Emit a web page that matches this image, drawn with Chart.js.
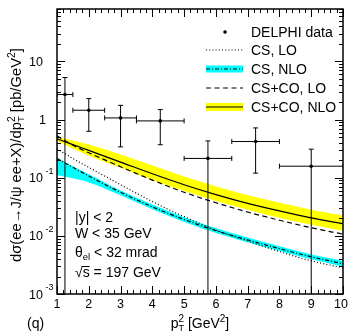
<!DOCTYPE html>
<html><head><meta charset="utf-8">
<script src="https://cdn.jsdelivr.net/npm/chart.js@4.4.0/dist/chart.umd.min.js"></script>
<style>html,body{margin:0;padding:0;background:#fff;}canvas{display:block;}</style>
</head><body>
<canvas id="c" width="351" height="334"></canvas>
<script>
// ---- data ----
const curveX     = [1, 1.5, 2, 3, 4, 5, 6, 7, 8, 9, 10];
const csLO       = [0.316, 0.214, 0.151, 0.0759, 0.0389, 0.0214, 0.0126, 0.00813, 0.00537, 0.00372, 0.00282];
const csNLO      = [0.214, 0.151, 0.107, 0.0562, 0.0316, 0.0191, 0.0123, 0.00851, 0.00603, 0.00437, 0.00331];
const csNLOHigh  = [0.224, 0.158, 0.115, 0.0603, 0.0347, 0.0209, 0.0135, 0.00933, 0.00661, 0.00479, 0.00372];
const csNLOLow   = [0.112, 0.0977, 0.0832, 0.0501, 0.0288, 0.0174, 0.0112, 0.00776, 0.00550, 0.00398, 0.00295];
const coLO       = [0.525, 0.363, 0.269, 0.155, 0.0912, 0.0562, 0.0372, 0.0257, 0.0186, 0.0138, 0.0107];
const coNLO      = [0.468, 0.372, 0.295, 0.186, 0.117, 0.0759, 0.0513, 0.0363, 0.0269, 0.0204, 0.0162];
const coNLOHigh  = [0.50, 0.437, 0.372, 0.251, 0.162, 0.105, 0.0708, 0.0501, 0.0372, 0.0282, 0.0224];
const coNLOLow   = [0.427, 0.316, 0.240, 0.148, 0.0912, 0.0589, 0.0398, 0.0282, 0.0204, 0.0155, 0.0123];

const dataX      = [1.25, 2, 3, 4.25, 5.75, 7.25, 9];
const dataXLow   = [1, 1.5, 2.5, 3.5, 5, 6.5, 8];
const dataXHigh  = [1.5, 2.5, 3.5, 5, 6.5, 8, 10];
const dataY      = [2.7, 1.45, 1.07, 0.95, 0.215, 0.42, 0.158];
const dataYLow   = [0.0001, 0.63, 0.34, 0.37, 0.0001, 0.12, 0.0001];
const dataYHigh  = [5.3, 2.3, 1.76, 1.49, 0.43, 0.72, 0.31];

const xTickValues = [1, 2, 3, 4, 5, 6, 7, 8, 9, 10];
const xTickLabels = ['1', '2', '3', '4', '5', '6', '7', '8', '9', '10'];
const yTickValues = [0.001, 0.01, 0.1, 1, 10];
const yTickBases  = ['10', '10', '10', '1', '10'];
const yTickExps   = ['-3', '-2', '-1', '', ''];
const legendLabels = ['DELPHI data', 'CS, LO', 'CS, NLO', 'CS+CO, LO', 'CS+CO, NLO'];
const cutLines = ['|y| < 2', 'W < 35 GeV', 'θ', '√s = 197 GeV'];

// ---- styling ----
const FONT = '"Liberation Sans", Arial, Helvetica, sans-serif';
const f = s => s + 'px ' + FONT;
const YELLOW = '#ffff00', CYAN = '#00ffff';
const DOT = [1, 2.2], DASH = [5, 3.5], DASHDOT = [4, 2, 1, 2];

const xy = (xs, ys) => xs.map((x, i) => ({x: x, y: ys[i]}));
const lineDs = (ys, dash, order) => ({data: xy(curveX, ys), borderColor: '#000', borderWidth: 1.2,
  borderDash: dash, pointRadius: 0, fill: false, order: order, cubicInterpolationMode: 'monotone'});
const bandEdge = (ys, fill, color) => ({data: xy(curveX, ys), borderColor: 'rgba(0,0,0,0)', borderWidth: 1,
  pointRadius: 0, fill: fill, backgroundColor: color, order: 10, cubicInterpolationMode: 'monotone'});

function drawSegs(ctx, segs, x, y) {
  let cx = x;
  for (const s of segs) {
    ctx.font = f(s.size);
    ctx.fillText(s.t, cx, y + (s.dy || 0));
    const w = ctx.measureText(s.t).width;
    cx += (s.adv !== undefined) ? s.adv : w;
  }
  return cx - x;
}
function segsWidth(ctx, segs) {
  let w = 0;
  for (const s of segs) { ctx.font = f(s.size); const m = ctx.measureText(s.t).width; w += (s.adv !== undefined) ? s.adv : m; }
  return w;
}

const decor = {
  id: 'decor',
  afterDatasetsDraw(chart) {
    const ctx = chart.ctx, a = chart.chartArea, xs = chart.scales.x, ys = chart.scales.y;
    ctx.save();
    // error bars
    ctx.save();
    ctx.beginPath(); ctx.rect(a.left, a.top, a.right - a.left, a.bottom - a.top); ctx.clip();
    ctx.strokeStyle = '#000'; ctx.lineWidth = 1;
    for (let i = 0; i < dataX.length; i++) {
      const px = xs.getPixelForValue(dataX[i]), py = ys.getPixelForValue(dataY[i]);
      const xl = xs.getPixelForValue(dataXLow[i]), xh = xs.getPixelForValue(dataXHigh[i]);
      const yl = Math.min(ys.getPixelForValue(dataYLow[i]), a.bottom + 5), yh = ys.getPixelForValue(dataYHigh[i]);
      ctx.beginPath();
      ctx.moveTo(xl, py); ctx.lineTo(xh, py);
      ctx.moveTo(px, yl); ctx.lineTo(px, yh);
      ctx.moveTo(xl, py - 2.5); ctx.lineTo(xl, py + 2.5);
      ctx.moveTo(xh, py - 2.5); ctx.lineTo(xh, py + 2.5);
      ctx.moveTo(px - 2.5, yh); ctx.lineTo(px + 2.5, yh);
      if (yl < a.bottom) { ctx.moveTo(px - 2.5, yl); ctx.lineTo(px + 2.5, yl); }
      ctx.stroke();
    }
    ctx.restore();

    // frame
    ctx.strokeStyle = '#000'; ctx.lineWidth = 1.5; ctx.setLineDash([]);
    ctx.strokeRect(a.left, a.top, a.right - a.left, a.bottom - a.top);
    // x ticks
    ctx.lineWidth = 1;
    ctx.beginPath();
    for (let v = 1; v <= 10.001; v += 0.2) {
      const major = Math.abs(v - Math.round(v)) < 1e-6;
      const L = major ? 8 : 4;
      const px = Math.round(xs.getPixelForValue(v)) + 0.5;
      ctx.moveTo(px, a.bottom); ctx.lineTo(px, a.bottom - L);
      ctx.moveTo(px, a.top); ctx.lineTo(px, a.top + L);
    }
    // y ticks
    for (let e = -3; e <= 1; e++) {
      for (let k = 1; k <= 9; k++) {
        const v = k * Math.pow(10, e);
        if (v > ys.max) continue;
        const L = k === 1 ? 8 : 4;
        const py = Math.round(ys.getPixelForValue(v)) + 0.5;
        ctx.moveTo(a.left, py); ctx.lineTo(a.left + L, py);
        ctx.moveTo(a.right, py); ctx.lineTo(a.right - L, py);
      }
    }
    ctx.stroke();

    // tick labels
    ctx.fillStyle = '#000';
    ctx.textBaseline = 'alphabetic';
    ctx.font = f(12.5); ctx.textAlign = 'center';
    xTickValues.forEach((v, i) => ctx.fillText(xTickLabels[i], xs.getPixelForValue(v) - (i === 9 ? 2 : 0), 308));
    yTickValues.forEach((v, i) => {
      const py = ys.getPixelForValue(v);
      ctx.textAlign = 'right'; ctx.font = f(12.5);
      const right = yTickExps[i] ? 43 : (yTickBases[i] === '1' ? 46 : 43);
      ctx.fillText(yTickBases[i], right, py + 4.5);
      if (yTickExps[i]) { ctx.textAlign = 'left'; ctx.font = f(9); ctx.fillText(yTickExps[i], 45.5, py - 4); }
    });

    // x title
    ctx.textAlign = 'left';
    const xt = [{t: 'p', size: 14}, {t: '2', size: 10, dy: -6, adv: 0}, {t: 'T', size: 9, dy: 3},
                {t: ' [GeV', size: 14}, {t: '2', size: 10, dy: -6}, {t: ']', size: 14}];
    const xw = segsWidth(ctx, xt);
    drawSegs(ctx, xt, 200 - xw / 2, 328);
    ctx.font = f(14); ctx.fillText('(q)', 27, 328);

    // y title (rotated), spanning y = 262 (start) up to y = 48 (end)
    const mk = (S) => [{t: 'dσ(ee→J/ψ ee+X)/dp', size: S}, {t: '2', size: S * 0.7, dy: -S * 0.42, adv: 0},
                       {t: 'T', size: S * 0.65, dy: S * 0.2},
                       {t: ' [pb/GeV', size: S}, {t: '2', size: S * 0.7, dy: -S * 0.42}, {t: ']', size: S}];
    let S = 14;
    S = S * 214 / segsWidth(ctx, mk(S));
    const yt = mk(S);
    ctx.save();
    ctx.translate(21, 262);
    ctx.rotate(-Math.PI / 2);
    drawSegs(ctx, yt, 0, 0);
    ctx.restore();

    // legend
    const lx0 = 206, lx1 = 243, tx = 251;
    const rows = [32, 50, 69, 88, 107];
    ctx.font = f(14); ctx.textAlign = 'left';
    legendLabels.forEach((t, i) => ctx.fillText(t, tx, rows[i] + 5));
    ctx.beginPath(); ctx.arc(225, rows[0], 1.8, 0, Math.PI * 2); ctx.fill();
    ctx.fillStyle = CYAN; ctx.fillRect(lx0, rows[2] - 3.5, lx1 - lx0, 7);
    ctx.fillStyle = YELLOW; ctx.fillRect(lx0, rows[4] - 4, lx1 - lx0, 8);
    ctx.fillStyle = '#000';
    const seg = (y, dash) => { ctx.setLineDash(dash); ctx.lineWidth = 1.2; ctx.beginPath(); ctx.moveTo(lx0, y); ctx.lineTo(lx1, y); ctx.stroke(); };
    seg(rows[1], DOT); seg(rows[2], DASHDOT); seg(rows[3], DASH); seg(rows[4], []);
    ctx.setLineDash([]);

    // cut annotations
    ctx.font = f(14); ctx.textAlign = 'left';
    ctx.fillText(cutLines[0], 75, 222);
    ctx.fillText(cutLines[1], 75, 238);
    drawSegs(ctx, [{t: cutLines[2], size: 14}, {t: 'el', size: 9.5, dy: 3}, {t: ' < 32 mrad', size: 14}], 75, 257);
    ctx.font = f(14);
    ctx.fillText(cutLines[3], 75, 277);
    const wr = ctx.measureText('√').width, ws = ctx.measureText('s').width;
    ctx.lineWidth = 1; ctx.beginPath(); ctx.moveTo(75 + wr - 1, 266.5); ctx.lineTo(75 + wr + ws, 266.5); ctx.stroke();
    ctx.restore();
  }
};

new Chart(document.getElementById('c'), {
  type: 'line',
  data: {
    datasets: [
      bandEdge(coNLOHigh, false, YELLOW),
      bandEdge(coNLOLow, '-1', YELLOW),
      bandEdge(csNLOHigh, false, CYAN),
      bandEdge(csNLOLow, '-1', CYAN),
      lineDs(csLO, DOT, 2),
      lineDs(csNLO, DASHDOT, 2),
      lineDs(coLO, DASH, 2),
      lineDs(coNLO, [], 2),
      {type: 'scatter', data: xy(dataX, dataY), showLine: false, pointRadius: 1.8, pointBackgroundColor: '#000',
       pointBorderColor: '#000', pointBorderWidth: 0, order: 0}
    ]
  },
  options: {
    responsive: false, animation: false, devicePixelRatio: 1, events: [],
    layout: {padding: {left: 57, right: 8, top: 9, bottom: 40}},
    plugins: {legend: {display: false}, tooltip: {enabled: false}},
    scales: {
      x: {type: 'linear', min: 1, max: 10, display: false},
      y: {type: 'logarithmic', min: 0.001, max: 80, display: false}
    }
  },
  plugins: [decor]
});
</script>
</body></html>
